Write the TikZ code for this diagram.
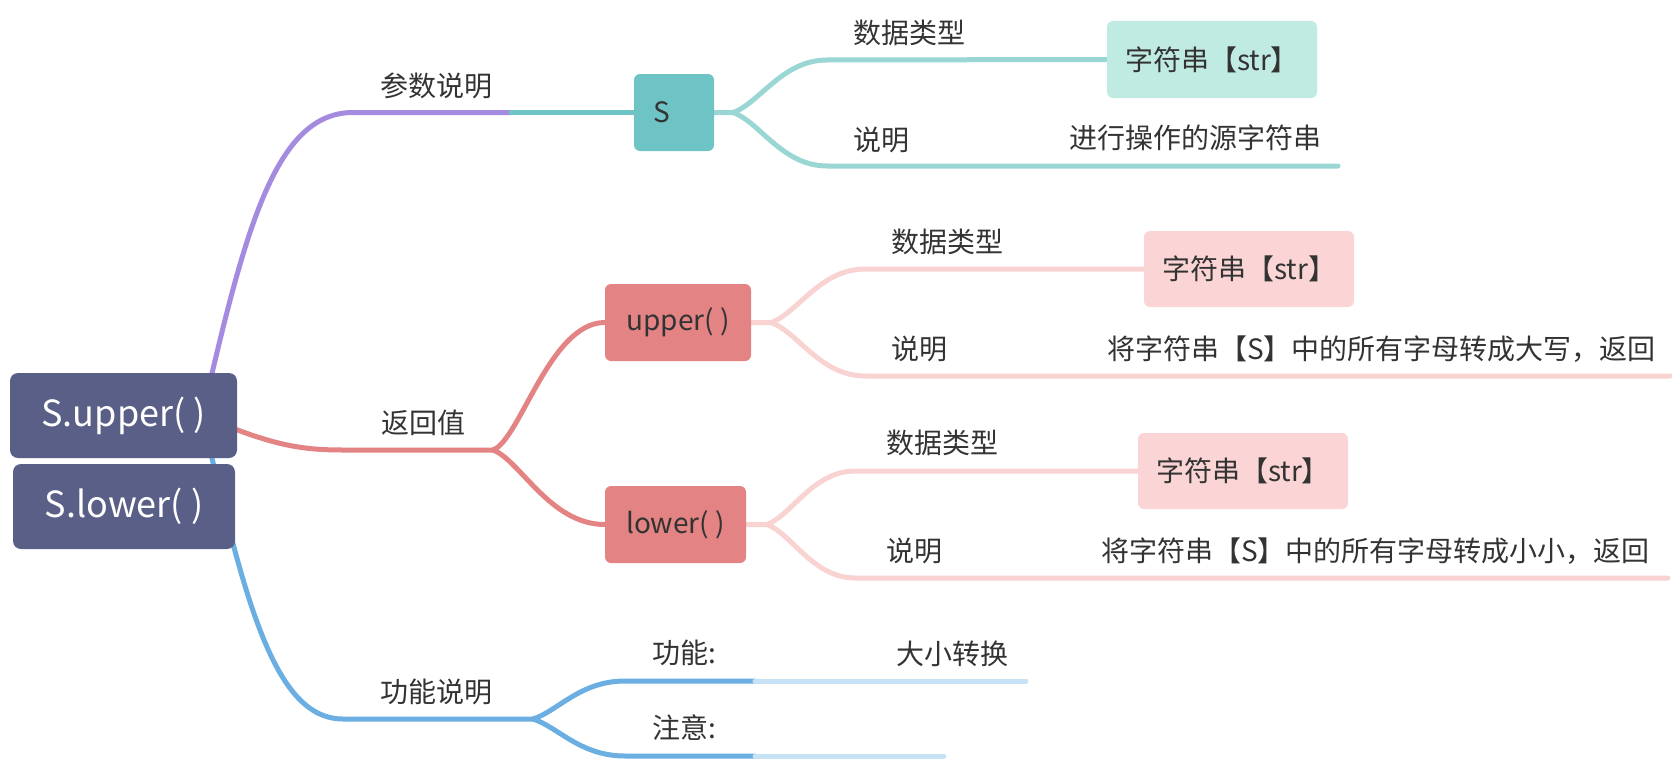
\documentclass[tikz,border=0pt]{standalone}
\usepackage{fontspec}
\newfontfamily\cjk{Noto Sans CJK SC}
\usepackage{tikz}
\usetikzlibrary{backgrounds}
\definecolor{rootc}{HTML}{5A5F87}
\definecolor{purp}{HTML}{A58BE0}
\definecolor{tealbox}{HTML}{6EC4C4}
\definecolor{teall}{HTML}{9AD6D4}
\definecolor{mint}{HTML}{C0EBE3}
\definecolor{redc}{HTML}{E38383}
\definecolor{pinkl}{HTML}{F9D2D2}
\definecolor{pinkbox}{HTML}{FBD5D5}
\definecolor{bluec}{HTML}{6AAEE2}
\definecolor{lblue}{HTML}{C6E2F4}
\definecolor{txt}{HTML}{333333}
\tikzset{
  every node/.style={font=\cjk\fontsize{28}{33}\selectfont, text=txt},
  lbl/.style={inner sep=0pt},
  lblw/.style={inner sep=0pt, anchor=west},
  topic/.style={rounded corners=8pt, minimum height=85pt, inner sep=0pt,
    fill=rootc, text=white, font=\cjk\fontsize{36}{42}\selectfont},
  subbox/.style={rounded corners=6pt, minimum height=77pt, inner sep=0pt},
  branch/.style={line width=5pt, line cap=round},
}

\begin{document}
\begin{tikzpicture}[x=1pt,y=-1pt]
\useasboundingbox (0,0) rectangle (1680,760);

% central topics
\node[topic, minimum width=227pt] (upp) at (123.5,415.5) {S.upper( )};
\node[topic, minimum width=222pt] (low) at (124,506.5) {S.lower( )};

% main branch labels
\node[lbl] (canshu) at (436,86) {参数说明};
\node[lbl] (fanhui) at (423,423) {返回值};
\node[lbl] (gongneng) at (436,692) {功能说明};

% boxes
\node[subbox, fill=tealbox, minimum width=80pt, text width=42pt, align=left, inner xsep=19pt] (S) at (674,112.5) {S};
\node[subbox, fill=redc, minimum width=146pt] (fup) at (678,322.5) {upper( )};
\node[subbox, fill=redc, minimum width=141pt] (flow) at (675.5,524.5) {lower( )};
\node[subbox, fill=mint, minimum width=210pt] (str1) at (1212,59.5) {字符串【str】};
\node[subbox, fill=pinkbox, minimum width=210pt, minimum height=76pt] (str2) at (1249,269) {字符串【str】};
\node[subbox, fill=pinkbox, minimum width=210pt, minimum height=76pt] (str3) at (1243,471) {字符串【str】};

% leaf labels
\node[lblw] (tS1) at (853,33) {数据类型};
\node[lblw] (tS2) at (853,140) {说明};
\node[lblw] (dS2) at (1069,138) {进行操作的源字符串};
\node[lblw] (tU1) at (891,242) {数据类型};
\node[lblw] (tU2) at (891,349) {说明};
\node[lblw] (dU2) at (1107,349) {将字符串【S】中的所有字母转成大写，返回};
\node[lblw] (tL1) at (886,443) {数据类型};
\node[lblw] (tL2) at (886,551) {说明};
\node[lblw] (dL2) at (1101,551) {将字符串【S】中的所有字母转成小小，返回};
\node[lblw] (tB1) at (652,653) {功能:};
\node[lblw] (dB1) at (896,654) {大小转换};
\node[lblw] (tB2) at (652,728) {注意:};

% junctions and line ends
\coordinate (hub) at ([xshift=-35pt]upp.east);
\coordinate (pS) at (511,112.5);
\coordinate (fkR) at (493,450);
\coordinate (fkB) at (533,719);
\coordinate (fkS) at ([xshift=19pt]S.east);
\coordinate (fkU) at ([xshift=20pt]fup.east);
\coordinate (fkL) at ([xshift=21pt]flow.east);
\coordinate (eS2) at (1338,166);
\coordinate (eU2) at (1670,376);
\coordinate (eL2) at (1668,578);
\coordinate (eB1) at (755,681);
\coordinate (eB2) at (755,756);
\coordinate (xB1) at (1026,681);
\coordinate (xB2) at (944,756);

\begin{scope}[on background layer]
  % main branches
  \draw[branch, purp] (hub) .. controls (245,230) and (275,112.5) .. (353,112.5) -- (pS);
  \draw[branch, tealbox] (pS) -- (S.west);
  \draw[branch, redc] (hub) .. controls (270,445) and (300,450) .. (343,450) -- (fkR);
  \draw[branch, redc] (fkR) .. controls +(27,-10) and +(-55,0) .. (fup.west);
  \draw[branch, redc] (fkR) .. controls +(27,10) and +(-55,0) .. (flow.west);
  \draw[branch, bluec] (hub) .. controls (245,604) and (275,719) .. (343,719) -- (fkB);
  % parameter S
  \draw[branch, teall] (S.east) -- (fkS) .. controls +(27,-10) and +(-45,0) .. ++(94,-52.5) -- (str1.west);
  \draw[branch, teall] (fkS) .. controls +(27,10) and +(-45,0) .. ++(94,53.5) -- (eS2);
  % upper()
  \draw[branch, pinkl] (fup.east) -- (fkU) .. controls +(27,-10) and +(-45,0) .. ++(94,-53.5) -- (str2.west);
  \draw[branch, pinkl] (fkU) .. controls +(27,10) and +(-45,0) .. ++(94,53.5) -- (eU2);
  % lower()
  \draw[branch, pinkl] (flow.east) -- (fkL) .. controls +(25,-10) and +(-42,0) .. ++(88,-53.5) -- (str3.west);
  \draw[branch, pinkl] (fkL) .. controls +(25,10) and +(-42,0) .. ++(88,53.5) -- (eL2);
  % function
  \draw[branch, bluec] (fkB) .. controls +(25,-8) and +(-45,0) .. ++(92,-38) -- (eB1);
  \draw[branch, bluec] (fkB) .. controls +(25,8) and +(-45,0) .. ++(92,37) -- (eB2);
  \draw[branch, lblue] (eB1) -- (xB1);
  \draw[branch, lblue] (eB2) -- (xB2);
\end{scope}
\end{tikzpicture}
\end{document}
